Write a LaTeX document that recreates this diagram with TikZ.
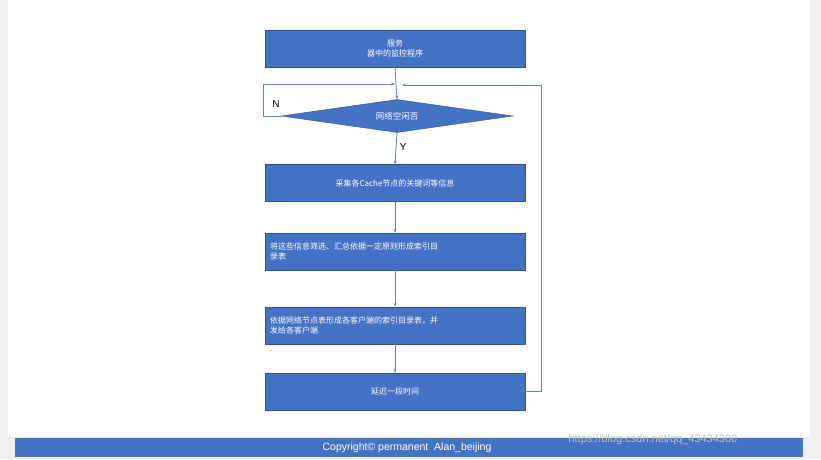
\documentclass[tikz,border=0pt]{standalone}
\usepackage{fontspec}
\setmainfont{Noto Sans CJK SC}
\newfontfamily\latinfont{Liberation Sans}
\usetikzlibrary{shapes.geometric,arrows.meta}
\definecolor{boxblue}{HTML}{4472C4}
\definecolor{boxedge}{HTML}{2F528F}
\definecolor{linkblue}{HTML}{5B85CF}
\tikzset{%
  stepbox/.style = {draw=boxedge, fill=boxblue, rectangle, minimum width=260pt, minimum height=37pt, text=white, font=\fontsize{8}{10}\selectfont, align=left, text width=250pt},
  decide/.style  = {draw=boxedge, fill=boxblue, diamond, aspect=7, minimum width=232pt, minimum height=33pt, inner sep=0pt, text=white, font=\fontsize{8.5}{10}\selectfont},
  link/.style    = {draw=linkblue, line width=0.8pt, -{Stealth[length=4pt,width=3pt]}}
}
\begin{document}
\begin{tikzpicture}[x=1pt,y=-1pt]
    \useasboundingbox (0,0) rectangle (821,459);
    \fill[black!6] (0,0) rectangle (821,459);
    \fill[white] (8,0) rectangle (810,437);
    \fill[boxblue] (15,438) rectangle (803,457);
    \node[text=white, font=\latinfont\fontsize{10.5}{12}\selectfont] (copy) at (407,448) {Copyright© permanent\ \ Alan\_beijing};
    \node[text=black!25, font=\latinfont\fontsize{11}{12}\selectfont, anchor=west] (mark) at (565,440) {https://blog.csdn.net/qq\_43434300};

    %boxes
    \node[stepbox, align=center] (watch) at (395,48.5) {服务\\器中的监控程序};
    \node[decide] (idle) at (397,116) {网络空闲否};
    \node[stepbox, align=center] (gather) at (395,183) {采集各Cache节点的关键词等信息};
    \node[stepbox] (sieve) at (395,251.5) {将这些信息筛选、汇总依据一定原则形成索引目\\录表};
    \node[stepbox] (send) at (395,325.5) {依据网络节点表形成各客户端的索引目录表，并\\发给各客户端};
    \node[stepbox, align=center] (wait) at (395,391.5) {延迟一段时间};
    \coordinate (joinl) at (395,84);
    \coordinate (joinr) at (402,85);
    \coordinate (cornl) at (263,84);
    \coordinate (cornr) at (541,85);

    %connectors
    \draw[link] (watch.south) -- (idle.north);
    \draw[link] (idle.west) -- (idle.west -| cornl) -- (cornl) -- (joinl);
    \draw[link] (idle.south) -- (gather.north) node[pos=.45, right, font=\latinfont\fontsize{10}{12}\selectfont] {Y};
    \draw[link] (gather.south) -- (sieve.north);
    \draw[link] (sieve.south) -- (send.north);
    \draw[link] (send.south) -- (wait.north);
    \draw[link] (wait.east) -- (wait.east -| cornr) -- (cornr) -- (joinr);
    \node[font=\latinfont\fontsize{10}{12}\selectfont] (no) at (276,104) {N};
\end{tikzpicture}
\end{document}
